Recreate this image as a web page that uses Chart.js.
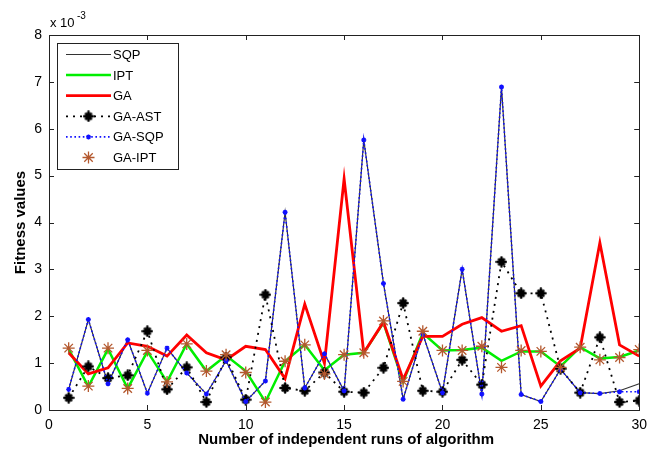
<!DOCTYPE html>
<html>
<head>
<meta charset="utf-8">
<script src="https://cdn.jsdelivr.net/npm/chart.js@4.4.1/dist/chart.umd.min.js"></script>
<style>
html,body{margin:0;padding:0;background:#fff;}
#wrap{width:654px;height:454px;position:relative;}
</style>
</head>
<body>
<div id="wrap"><canvas id="c" width="654" height="454"></canvas></div>
<script>
// ---- data (fitness values, in units of 1e-3) ----
const runs   = [1,2,3,4,5,6,7,8,9,10,11,12,13,14,15,16,17,18,19,20,21,22,23,24,25,26,27,28,29,30];
const sqp    = [0.44,1.93,0.56,1.50,0.36,1.32,0.79,0.34,1.05,0.18,0.62,4.22,0.47,1.20,0.41,5.76,2.70,0.23,1.62,0.37,3.00,0.34,6.89,0.33,0.18,0.87,0.37,0.35,0.41,0.56];
const ipt    = [1.30,0.50,1.30,0.46,1.25,0.60,1.41,0.83,1.16,0.83,0.17,1.04,1.39,0.85,1.18,1.22,1.86,0.60,1.64,1.27,1.28,1.33,1.05,1.25,1.25,0.93,1.34,1.10,1.13,1.27];
const ga     = [1.22,0.77,0.90,1.43,1.36,1.15,1.60,1.22,1.07,1.36,1.29,0.67,2.26,1.00,4.93,1.22,1.88,0.65,1.57,1.57,1.83,1.97,1.68,1.80,0.51,1.05,1.32,3.57,1.39,1.15];
const gaAst  = [0.26,0.93,0.68,0.74,1.68,0.44,0.91,0.17,1.12,0.22,2.46,0.47,0.41,0.80,0.39,0.37,0.90,2.28,0.41,0.39,1.07,0.54,3.16,2.49,2.49,0.88,0.37,1.55,0.17,0.20];
const gaSqp  = [0.44,1.93,0.56,1.50,0.36,1.32,0.79,0.34,1.05,0.18,0.62,4.22,0.47,1.20,0.41,5.76,2.70,0.23,1.62,0.37,3.00,0.34,6.89,0.33,0.18,0.87,0.37,0.35,0.39,0.39];
const gaIpt  = [1.32,0.51,1.32,0.46,1.27,0.60,1.41,0.83,1.18,0.80,0.17,1.04,1.39,0.77,1.18,1.22,1.90,0.61,1.68,1.27,1.27,1.36,0.91,1.27,1.25,0.91,1.34,1.07,1.12,1.29];
const seriesNames = ['SQP','IPT','GA','GA-AST','GA-SQP','GA-IPT'];
const xTicks = [0,5,10,15,20,25,30];
const yTicks = [0,1,2,3,4,5,6,7,8];
const xTitle = 'Number of independent runs of algorithm';
const yTitle = 'Fitness values';

const FONT = '"Liberation Sans", Arial, sans-serif';
const BROWN = '#b4582e';

function pts(vals){ return runs.map((r,i)=>({x:r,y:vals[i]})); }

// bold asterisk marker image for GA-AST
function astImg(){
  const s=12, c=document.createElement('canvas'); c.width=s; c.height=s;
  const g=c.getContext('2d'); g.strokeStyle='#000'; g.lineWidth=2.6; g.lineCap='round';
  const m=s/2, r=4.5;
  g.beginPath();
  g.moveTo(m,m-r); g.lineTo(m,m+r);
  g.moveTo(m-r,m); g.lineTo(m+r,m);
  const d=r*0.55;
  g.moveTo(m-d,m-d); g.lineTo(m+d,m+d);
  g.moveTo(m-d,m+d); g.lineTo(m+d,m-d);
  g.stroke();
  return c;
}
const AST = astImg();

const styles = [
  {borderColor:'#333', borderWidth:1.2, borderDash:[], pointRadius:0, pointStyle:'circle', pointBorderColor:'#333', pointBorderWidth:0, showLine:true, order:6},
  {borderColor:'#00ee00', borderWidth:2.5, borderDash:[], pointRadius:0, pointStyle:'circle', pointBorderColor:'#00ee00', pointBorderWidth:0, showLine:true, order:5},
  {borderColor:'#ff0000', borderWidth:2.8, borderDash:[], pointRadius:0, pointStyle:'circle', pointBorderColor:'#ff0000', pointBorderWidth:0, showLine:true, order:4},
  {borderColor:'#000', borderWidth:1.8, borderDash:[2,5], pointRadius:6, pointStyle:AST, pointBorderColor:'#000', pointBorderWidth:1, showLine:true, order:3},
  {borderColor:'#1010ff', borderWidth:1.6, borderDash:[1.6,2.6], pointRadius:2.5, pointStyle:'star', pointBorderColor:'#1010ff', pointBorderWidth:1.4, showLine:true, order:2},
  {borderColor:BROWN, borderWidth:0, borderDash:[], pointRadius:6, pointStyle:'star', pointBorderColor:BROWN, pointBorderWidth:1.3, showLine:false, order:1}
];
const allVals = [sqp, ipt, ga, gaAst, gaSqp, gaIpt];

const datasets = allVals.map((v,i)=>Object.assign({
  label: seriesNames[i],
  data: pts(v),
  fill:false, tension:0,
  pointBackgroundColor: styles[i].pointBorderColor,
  pointHoverRadius: styles[i].pointRadius
}, styles[i]));

function drawMarker(ctx, st, x, y){
  if(st.pointRadius<=0) return;
  if(st.pointStyle===AST){ ctx.drawImage(AST, x-AST.width/2, y-AST.height/2); return; }
  const r=st.pointRadius;
  ctx.save(); ctx.strokeStyle=st.pointBorderColor; ctx.lineWidth=st.pointBorderWidth; ctx.setLineDash([]);
  ctx.beginPath();
  ctx.moveTo(x,y-r); ctx.lineTo(x,y+r); ctx.moveTo(x-r,y); ctx.lineTo(x+r,y);
  const d=r*0.707;
  ctx.moveTo(x-d,y-d); ctx.lineTo(x+d,y+d); ctx.moveTo(x-d,y+d); ctx.lineTo(x+d,y-d);
  ctx.stroke(); ctx.restore();
}

const decor = {
  id:'decor',
  afterDraw(chart){
    const ctx=chart.ctx, a=chart.chartArea, xs=chart.scales.x, ys=chart.scales.y;
    ctx.save();
    // box
    ctx.strokeStyle='#222'; ctx.lineWidth=1; ctx.setLineDash([]);
    ctx.strokeRect(Math.round(a.left)+0.5, Math.round(a.top)+0.5, Math.round(a.right-a.left), Math.round(a.bottom-a.top));
    // inward ticks
    const tl=5;
    ctx.beginPath();
    xTicks.forEach(t=>{ const px=Math.round(xs.getPixelForValue(t))+0.5;
      ctx.moveTo(px,a.bottom); ctx.lineTo(px,a.bottom-tl);
      ctx.moveTo(px,a.top); ctx.lineTo(px,a.top+tl); });
    yTicks.forEach(t=>{ const py=Math.round(ys.getPixelForValue(t))+0.5;
      ctx.moveTo(a.left,py); ctx.lineTo(a.left+tl,py);
      ctx.moveTo(a.right,py); ctx.lineTo(a.right-tl,py); });
    ctx.stroke();
    // exponent
    ctx.fillStyle='#000'; ctx.textBaseline='alphabetic'; ctx.textAlign='left';
    ctx.font='13px '+FONT;
    ctx.fillText('x 10', 50, 27);
    ctx.font='10px '+FONT;
    ctx.fillText('-3', 77, 19);
    // axis titles
    ctx.font='bold 15px '+FONT;
    ctx.textAlign='center'; ctx.textBaseline='middle';
    ctx.fillText(xTitle, (a.left+a.right)/2+2, 440);
    ctx.save(); ctx.translate(21,(a.top+a.bottom)/2); ctx.rotate(-Math.PI/2);
    ctx.fillText(yTitle,0,0); ctx.restore();
    // legend
    const lx=57.5, ly=43.5, lw=121, lh=126;
    ctx.fillStyle='#fff'; ctx.fillRect(lx,ly,lw,lh);
    ctx.strokeStyle='#222'; ctx.lineWidth=1; ctx.strokeRect(lx,ly,lw,lh);
    ctx.font='13px '+FONT; ctx.textAlign='left'; ctx.textBaseline='middle';
    seriesNames.forEach((n,i)=>{
      const yy=54.5+i*20.6, st=styles[i];
      if(st.showLine){
        ctx.save(); ctx.strokeStyle=st.borderColor; ctx.lineWidth=st.borderWidth; ctx.setLineDash(st.borderDash);
        ctx.beginPath(); ctx.moveTo(66,yy); ctx.lineTo(111,yy); ctx.stroke(); ctx.restore();
      }
      drawMarker(ctx, st, 88.5, yy);
      ctx.fillStyle='#000'; ctx.fillText(n, 113, yy+1);
    });
    ctx.restore();
  }
};

new Chart(document.getElementById('c'), {
  type:'line',
  data:{datasets},
  options:{
    responsive:false, animation:false, devicePixelRatio:1,
    layout:{padding:{left:0, top:35, right:14, bottom:0}},
    plugins:{legend:{display:false}, tooltip:{enabled:false}},
    scales:{
      x:{type:'linear', min:0, max:30,
         afterFit(s){ s.height=44; },
         afterBuildTicks(s){ s.ticks = xTicks.map(v=>({value:v})); },
         grid:{display:false, drawTicks:false}, border:{display:false},
         ticks:{font:{size:14, family:FONT}, color:'#000', padding:7, maxRotation:0, autoSkip:false}},
      y:{type:'linear', min:0, max:8,
         afterFit(s){ s.width=49; },
         afterBuildTicks(s){ s.ticks = yTicks.map(v=>({value:v})); },
         grid:{display:false, drawTicks:false}, border:{display:false},
         ticks:{font:{size:14, family:FONT}, color:'#000', padding:7, autoSkip:false}}
    }
  },
  plugins:[decor]
});
</script>
</body>
</html>
